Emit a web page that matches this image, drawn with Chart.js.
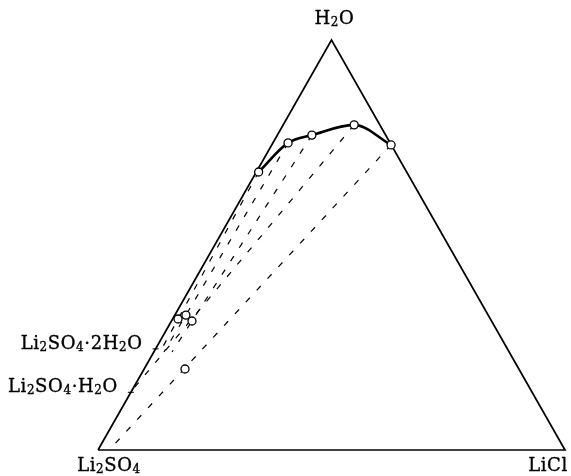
<!DOCTYPE html>
<html>
<head>
<meta charset="utf-8">
<script src="https://cdn.jsdelivr.net/npm/chart.js@4/dist/chart.umd.min.js"></script>
<style>
  html, body { margin: 0; padding: 0; background: #fff; }
  #wrap { width: 571px; height: 476px; }
</style>
</head>
<body>
<div id="wrap"><canvas id="grafico"></canvas></div>
<script>
// composições em fração mássica (H2O, LiCl); o resto é Li2SO4
const liquidoH2O   = [0.678, 0.749, 0.768, 0.793, 0.744];
const liquidoLiCl  = [0.005, 0.0325, 0.074, 0.152, 0.2555];
const residuoH2O   = [0.3195, 0.329, 0.3146, 0.1976];
const residuoLiCl  = [0.0116, 0.0238, 0.044, 0.0875];
const fimAmarraH2O  = [0.239, 0.239, 0.239, 0.144, 0.005];
const fimAmarraLiCl = [0.0133, 0.0218, 0.039, 0.0, 0.0255];
const hidratoH2O   = [0.2467, 0.1407];
const hidratoNomes = ['Li₂SO₄·2H₂O', 'Li₂SO₄·H₂O'];
const vertices     = ['Li₂SO₄', 'LiCl', 'H₂O'];
const verticeH2O   = [0, 0, 1];
const verticeLiCl  = [0, 1, 0];

const R3 = Math.sqrt(3) / 2;
// ternário -> cartesiano
const tern = (h, l) => ({ x: l + h / 2, y: h * R3 });

const triangulo = [0, 1, 2, 0].map(i => tern(verticeH2O[i], verticeLiCl[i]));
const curva     = liquidoH2O.map((h, i) => tern(h, liquidoLiCl[i]));
const residuos  = residuoH2O.map((h, i) => tern(h, residuoLiCl[i]));
const hidratos  = hidratoH2O.map(h => tern(h, 0));

const amarras = liquidoH2O.map((h, i) => ({
    type: 'line',
    data: [tern(h, liquidoLiCl[i]), tern(fimAmarraH2O[i], fimAmarraLiCl[i])],
    borderColor: '#000', borderWidth: 1.2, borderDash: [6, 10],
    pointRadius: 0, clip: false, order: 5
}));

const FONTE = '"DejaVu Serif", "Liberation Serif", serif';
const SUB = { '₂': '2', '₄': '4' };

// desenha fórmula com índices menores e rebaixados
function desenharFormula(ctx, texto, x, y, alinhar) {
    const partes = [...texto].map(c => SUB[c] ? { t: SUB[c], sub: true } : { t: c, sub: false });
    const fonte = p => (p.sub ? '12px ' : '18px ') + FONTE;
    let largura = 0;
    partes.forEach(p => { ctx.font = fonte(p); p.w = ctx.measureText(p.t).width + 0.6; largura += p.w; });
    let cx = alinhar === 'right' ? x - largura : alinhar === 'center' ? x - largura / 2 : x;
    partes.forEach(p => {
        ctx.font = fonte(p);
        const yy = p.sub ? y + 4 : y;
        ctx.fillText(p.t, cx, yy);
        ctx.strokeText(p.t, cx, yy);
        cx += p.w;
    });
}

const rotulos = {
    id: 'rotulos',
    afterDraw(chart) {
        const { ctx, scales: { x, y } } = chart;
        ctx.save();
        ctx.fillStyle = '#000';
        ctx.strokeStyle = '#000';
        ctx.lineWidth = 0.35;
        ctx.textAlign = 'left';
        ctx.textBaseline = 'middle';
        const desloc = [[11, 16], [-17, 16], [3, -21]];
        vertices.forEach((nome, i) => {
            const p = tern(verticeH2O[i], verticeLiCl[i]);
            desenharFormula(ctx, nome, x.getPixelForValue(p.x) + desloc[i][0], y.getPixelForValue(p.y) + desloc[i][1], 'center');
        });
        hidratos.forEach((p, i) => {
            desenharFormula(ctx, hidratoNomes[i], x.getPixelForValue(p.x) - 13, y.getPixelForValue(p.y) - 5, 'right');
        });
        ctx.restore();
    }
};

new Chart(document.getElementById('grafico').getContext('2d'), {
    type: 'scatter',
    data: {
        datasets: [
            { type: 'line', data: triangulo, borderColor: '#000', borderWidth: 1.7,
              pointRadius: 0, clip: false, order: 4 },
            { type: 'line', data: curva, borderColor: '#000', borderWidth: 2.6,
              cubicInterpolationMode: 'monotone', pointRadius: 4, pointBackgroundColor: '#fff',
              pointBorderColor: '#000', pointBorderWidth: 1.3, clip: false, order: 1 },
            { data: residuos, pointRadius: 4, pointBackgroundColor: '#fff',
              pointBorderColor: '#000', pointBorderWidth: 1.3, clip: false, order: 2 },
            { data: hidratos, pointStyle: 'line', pointRadius: 3, borderColor: '#000',
              pointBorderWidth: 1, clip: false, order: 3 },
            ...amarras
        ]
    },
    plugins: [rotulos],
    options: {
        responsive: true,
        maintainAspectRatio: false,
        animation: false,
        layout: { padding: { left: 98, right: 6, top: 40, bottom: 26 } },
        plugins: { legend: { display: false }, tooltip: { enabled: false } },
        scales: {
            x: { type: 'linear', min: 0, max: 1, display: false },
            y: { type: 'linear', min: 0, max: R3, display: false }
        }
    }
});
</script>
</body>
</html>
